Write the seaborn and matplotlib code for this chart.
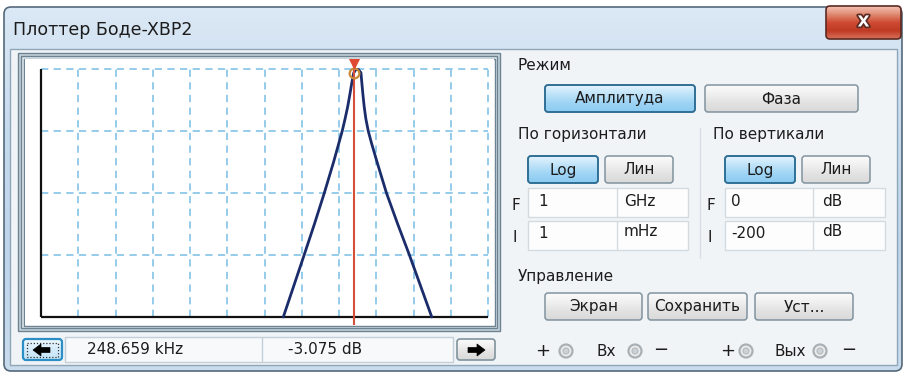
import numpy as np
import pandas as pd
import matplotlib
matplotlib.use("Agg")
import matplotlib.pyplot as plt
import seaborn as sns
from matplotlib.patches import FancyBboxPatch, Rectangle, Polygon, Circle
from matplotlib.colors import LinearSegmentedColormap
import matplotlib.patheffects as pe

# ---------------- data ----------------
freq_hz = [3.2e3, 1.16e4, 2.19e4, 4.03e4, 7.16e4, 1.22e5, 1.46e5, 1.72e5, 1.97e5,
           2.24e5, 2.48659e5, 2.8e5, 3.3e5, 3.89e5, 4.07e5, 4.37e5, 4.73e5,
           5.25e5, 6.10e5, 7.50e5, 1.05e6, 1.88e6, 3.76e6, 7.76e6, 1.55e7, 3.09e7]
mag_db = [-200, -150, -125, -100, -75, -50, -40, -30, -20,
          -10, -3.075, -0.5, -0.3, -3.0, -10, -20, -30,
          -40, -50, -60, -75, -100, -125, -150, -175, -200]
cursor_freq = 2.48659e5
cursor_db = -3.075
decades_hz = [1e-3, 1e-2, 1e-1, 1e0, 1e1, 1e2, 1e3, 1e4, 1e5, 1e6, 1e7, 1e8, 1e9]
db_levels = [-200, -150, -100, -50, 0]

title = "Плоттер Боде-XBP2"
readout_freq = "248.659 kHz"
readout_db = "-3.075 dB"

sns.set_theme(style="white")
plt.rcParams['font.family'] = ['DejaVu Sans']

W, H = 905, 378
fig = plt.figure(figsize=(W / 100, H / 100), dpi=100)
fig.patch.set_facecolor('white')
ui = fig.add_axes([0, 0, 1, 1])
ui.set_xlim(0, W)
ui.set_ylim(H, 0)
ui.axis('off')

TXT = '#1c1c1c'


def grad(x0, y0, x1, y1, colors, edge='none', r=3, lw=1.0, z=1):
    patch = FancyBboxPatch((x0, y0), x1 - x0, y1 - y0,
                           boxstyle=f"round,pad=0,rounding_size={r}",
                           fc='none', ec=edge, lw=lw, zorder=z + 0.5)
    ui.add_patch(patch)
    cmap = LinearSegmentedColormap.from_list('g', colors)
    im = ui.imshow(np.linspace(0, 1, 64)[:, None], cmap=cmap,
                   extent=(x0, x1, y1, y0), aspect='auto',
                   interpolation='bilinear', zorder=z)
    im.set_clip_path(patch)
    return patch


def box(x0, y0, x1, y1, fc, ec='none', lw=1.0, z=1):
    ui.add_patch(Rectangle((x0, y0), x1 - x0, y1 - y0, fc=fc, ec=ec, lw=lw, zorder=z))


def txt(x, y, s, size=11, ha='left', **kw):
    ui.text(x, y, s, fontsize=size, ha=ha, va='center', color=kw.pop('color', TXT), zorder=10, **kw)


# window frame + title bar
grad(4, 7, 902, 371, ['#dbe8f5', '#c7dbee', '#bfd5ea', '#c9dcee'], edge='#55697b', r=7, lw=1.2, z=1)
# client area
box(10, 49, 897, 365, '#f1f4f7', ec='#8ea6b8', lw=1.0, z=2)
txt(13, 30, title, size=12.5)

# close button
grad(826, 6, 901, 39, ['#f3c2b4', '#e08a72', '#cf4a32', '#c03a24', '#d8705a'],
     edge='#5a2a22', r=4, lw=1.2, z=3)
ui.text(863.5, 22, "X", fontsize=11, fontweight='bold', ha='center', va='center',
        color='white', zorder=11,
        path_effects=[pe.withStroke(linewidth=2.5, foreground='#5a2a22')])

# plot frame (bevel lines)
box(18, 53, 500, 331, '#c7d2da', ec='#6b8393', lw=1.0, z=3)
box(21, 56, 497, 328, '#dfe6eb', ec='#6b8393', lw=1.0, z=3)
box(24, 58.5, 494.5, 325.5, 'white', ec='#6b8393', lw=1.0, z=3)

# ---------------- Bode plot axes ----------------
px_l, px_r, px_t, px_b = 25, 494, 59, 325
ax = fig.add_axes([px_l / W, 1 - px_b / H, (px_r - px_l) / W, (px_b - px_t) / H])
ax.set_zorder(5)
ax.set_facecolor('white')
ax.set_xscale('log')
dec_px = 37.25
db_px = 1.235
ax.set_xlim(10 ** (-3 - (41 - px_l) / dec_px), 10 ** (9 + (px_r - 488) / dec_px))
ax.set_ylim(-200 - (px_b - 317) / db_px, 0 + (69 - px_t) / db_px)
for s in ax.spines.values():
    s.set_visible(False)
ax.set_xticks([])
ax.set_yticks([])
ax.minorticks_off()

grid_c = '#8cc8e8'
ax.vlines(decades_hz[1:], db_levels[0], db_levels[-1], colors=grid_c, lw=1.3,
          linestyles=(0, (4, 3)), zorder=1)
ax.hlines(db_levels[1:], decades_hz[0], decades_hz[-1], colors=grid_c, lw=1.3,
          linestyles=(0, (4, 3)), zorder=1)
ax.vlines([decades_hz[0]], db_levels[0], db_levels[-1], colors='#111111', lw=1.6, zorder=3)
ax.hlines([db_levels[0]], decades_hz[0], decades_hz[-1], colors='#111111', lw=1.6, zorder=3)

df = pd.DataFrame({'freq': freq_hz, 'mag': mag_db})
sns.lineplot(data=df, x='freq', y='mag', ax=ax, color='#1b2c6b', lw=2.0,
             estimator=None, sort=False, zorder=4)
ax.set_xlabel('')
ax.set_ylabel('')

ax.axvline(cursor_freq, ymin=0.0, ymax=1.0, color='#d4503a', lw=1.5, zorder=5)
ax.plot([cursor_freq], [cursor_db], marker='o', ms=7, mfc='none', mec='#c98a3a', mew=1.6, zorder=6)
ax.plot([cursor_freq], [6], marker='v', ms=8, color='#e04830', zorder=6)

# ---------------- right control panel ----------------
BLUE = ['#e4f4fd', '#bfe3f9', '#9ed4f5', '#8ccbf1']
GRAY = ['#fbfbfb', '#f0f0f0', '#e2e2e2', '#d9d9d9']
BLUE_E = '#2f6f95'
GRAY_E = '#80939e'


def button(x0, y0, x1, y1, label, active=False, size=11):
    grad(x0, y0, x1, y1, BLUE if active else GRAY, edge=BLUE_E if active else GRAY_E,
         r=3, lw=1.4 if active else 1.1, z=3)
    txt((x0 + x1) / 2, (y0 + y1) / 2 + 0.5, label, size=size, ha='center')


txt(517, 66, "Режим")
button(545, 85, 695, 112, "Амплитуда", active=True)
button(705, 85, 858, 112, "Фаза")

txt(518, 135, "По горизонтали")
txt(713, 135, "По вертикали")
ui.plot([700, 700], [128, 258], color='#d8dfe5', lw=1, zorder=3)

button(528, 156, 598, 183, "Log", active=True)
button(605, 156, 673, 183, "Лин")
button(725, 156, 795, 183, "Log", active=True)
button(802, 156, 870, 183, "Лин")

# entry fields
for (x0, xm, x1) in [(528, 617, 688), (725, 813, 885)]:
    for (y0, y1) in [(188, 217), (221, 250)]:
        box(x0, y0, x1, y1, '#fdfdfd', ec='#d3dbe1', lw=1.0, z=3)
        ui.plot([xm, xm], [y0, y1], color='#d3dbe1', lw=1.0, zorder=4)

txt(511, 206, "F")
txt(538, 202, "1")
txt(624, 201, "GHz")
txt(512, 238, "I")
txt(538, 233, "1")
txt(624, 232, "mHz")

txt(706, 206, "F")
txt(731, 202, "0")
txt(822, 201, "dB")
txt(707, 238, "I")
txt(731, 233, "-200")
txt(822, 232, "dB")

txt(518, 277, "Управление")
button(545, 293, 642, 320, "Экран")
button(648, 293, 747, 320, "Сохранить")
button(755, 293, 853, 320, "Уст...")

# ---------------- bottom bar ----------------
box(65, 337, 453, 362, '#f7f9fb', ec='#c4d0d9', lw=1.0, z=3)
ui.plot([262, 262], [337, 362], color='#c4d0d9', lw=1.0, zorder=4)
txt(87, 350, readout_freq)
txt(288, 350, readout_db)

grad(23, 339, 62, 360, ['#eef8fe', '#d5ecfb', '#c3e4f8'], edge='#2b8fc6', r=3, lw=1.6, z=4)
ui.add_patch(Rectangle((27, 342.5), 31, 14, fc='none', ec='#333333', lw=0.9,
                       ls=(0, (1, 1.5)), zorder=6))
ui.add_patch(Polygon([(33, 350), (41, 344), (41, 347.5), (50, 347.5), (50, 352.5),
                      (41, 352.5), (41, 356)], closed=True, fc='black', ec='black',
                     lw=0.5, zorder=7))
grad(457, 339, 495, 360, GRAY, edge=GRAY_E, r=3, lw=1.2, z=4)
ui.add_patch(Polygon([(485, 350), (477, 344), (477, 347.5), (468, 347.5), (468, 352.5),
                      (477, 352.5), (477, 356)], closed=True, fc='black', ec='black',
                     lw=0.5, zorder=7))


def terminal(x, y):
    ui.add_patch(Circle((x, y), 6.5, fc='#ececec', ec='#a9b0b5', lw=1.6, zorder=5))
    ui.add_patch(Circle((x, y), 3.0, fc='#cdd2d6', ec='#b5babe', lw=0.8, zorder=6))


txt(543, 351, "+", size=13, ha='center')
terminal(566, 351)
txt(606, 351, "Вх", ha='center')
terminal(635, 351)
txt(661, 350, "−", size=13, ha='center')

txt(728, 351, "+", size=13, ha='center')
terminal(746, 351)
txt(790, 351, "Вых", ha='center')
terminal(820, 351)
txt(849, 350, "−", size=13, ha='center')

fig.savefig("out.png", dpi=100, facecolor=fig.get_facecolor())
